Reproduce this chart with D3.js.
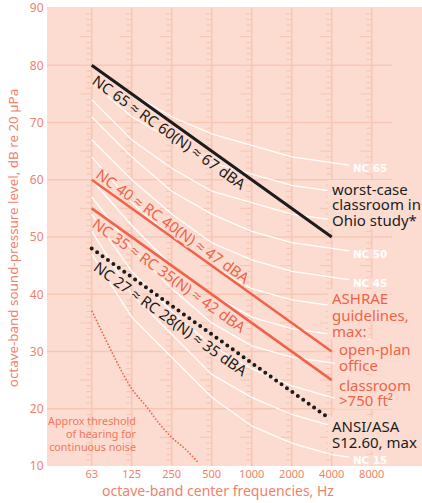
<!DOCTYPE html>
<html lang="en">
<head>
<meta charset="utf-8" />
<script src="https://d3js.org/d3.v7.min.js"></script>
<style>
  body { margin: 0; background: #fff; }
  text { font-family: "Noto Sans", sans-serif; }
</style>
</head>
<body>
<script>
const w = 422;
const h = 503;

// octave bands and axis ticks
const bands = [63, 125, 250, 500, 1000, 2000, 4000, 8000];
const bandLabels = ["63", "125", "250", "500", "1000", "2000", "4000", "8000"];
const dbTicks = [10, 20, 30, 40, 50, 60, 70, 80, 90];

// NC curves, dB per octave band 63..8000
const nc15 = [47, 36, 29, 22, 17, 14, 12, 11];
const nc20 = [51, 40, 33, 26, 22, 19, 17, 16];
const nc25 = [54, 44, 37, 31, 27, 24, 22, 21];
const nc30 = [57, 48, 41, 35, 31, 29, 28, 27];
const nc35 = [60, 52, 45, 40, 36, 34, 33, 32];
const nc40 = [64, 56, 50, 45, 41, 39, 38, 37];
const nc45 = [67, 60, 54, 49, 46, 44, 43, 42];
const nc50 = [71, 64, 58, 54, 51, 49, 48, 47];
const nc55 = [74, 67, 62, 58, 56, 54, 53, 52];
const nc60 = [77, 71, 67, 63, 61, 59, 58, 57];
const nc65 = [80, 75, 71, 68, 66, 64, 63, 62];
const ncLabelled = ["NC 65", "NC 50", "NC 45", "NC 15"];

// straight reference lines, 63 Hz -> 4000 Hz
const lineFreqs = [63, 4000];
const worstCase = [80, 50];
const openPlan = [60, 30];
const classroom = [55, 25];
const ansi = [48, 18];

// approximate hearing threshold
const thresholdFreqs = [63, 80, 100, 125, 160, 200, 250, 315, 400];
const thresholdDb = [37, 32, 27.5, 23.5, 20.5, 17.5, 15, 13, 10.5];

const peach = "#fcdcd0";
const gridCol = "#f8c6b3";
const axisCol = "#f2816a";
const red = "#f0634a";
const dark = "#1c1c1c";

const x = d3.scaleLog().base(2).domain([62.5, 8000]).range([91.7, 371.7]);
const y = d3.scaleLinear().domain([10, 90]).range([466, 8]);
const band = f => f === 63 ? 62.5 : f;  // nominal 63 sits on the octave

const plotLeft = 47;

const svg = d3.select("body").append("svg")
    .attr("width", w)
    .attr("height", h);

svg.append("rect")
    .attr("x", plotLeft).attr("y", y(90) - 1)
    .attr("width", w - plotLeft).attr("height", y(10) - y(90) + 1)
    .attr("fill", peach);

// horizontal grid
svg.append("g").selectAll("line")
    .data(dbTicks.filter(d => d > 10 && d < 90))
    .enter().append("line")
    .attr("x1", plotLeft).attr("x2", x(8000) + 20)
    .attr("y1", d => y(d)).attr("y2", d => y(d))
    .attr("stroke", gridCol).attr("stroke-width", 1.5);

// vertical grid with 1 dB ticks
const vg = svg.append("g");
bands.forEach(f => {
    const xf = x(band(f));
    vg.append("line")
        .attr("x1", xf).attr("x2", xf)
        .attr("y1", y(90)).attr("y2", y(10))
        .attr("stroke", gridCol).attr("stroke-width", 1.5);
    vg.selectAll(null)
        .data(d3.range(11, 90).filter(d => d % 10 !== 0))
        .enter().append("line")
        .attr("x1", d => xf - (d % 5 === 0 ? 11.5 : 5.5)).attr("x2", xf)
        .attr("y1", d => y(d)).attr("y2", d => y(d))
        .attr("stroke", gridCol).attr("stroke-width", 1.2);
});

// axes text
svg.append("g").selectAll("text")
    .data(dbTicks)
    .enter().append("text")
    .attr("x", 43.5).attr("y", d => y(d))
    .attr("dy", "0.36em")
    .attr("text-anchor", "end")
    .attr("font-size", 12)
    .attr("fill", axisCol)
    .text(d => d);

svg.append("g").selectAll("text")
    .data(bands)
    .enter().append("text")
    .attr("x", d => x(band(d))).attr("y", 477.5)
    .attr("text-anchor", "middle")
    .attr("font-size", 11)
    .attr("fill", axisCol)
    .text((d, i) => bandLabels[i]);

svg.append("text")
    .attr("x", 218).attr("y", 496)
    .attr("text-anchor", "middle")
    .attr("font-size", 14)
    .attr("fill", axisCol)
    .text("octave-band center frequencies, Hz");

svg.append("text")
    .attr("transform", "translate(17.5,238) rotate(-90)")
    .attr("text-anchor", "middle")
    .attr("font-size", 13.4)
    .attr("fill", axisCol)
    .text("octave-band sound-pressure level, dB re 20 µPa");

// NC curves
const ncCurves = [
    ["NC 15", nc15], ["NC 20", nc20], ["NC 25", nc25], ["NC 30", nc30],
    ["NC 35", nc35], ["NC 40", nc40], ["NC 45", nc45], ["NC 50", nc50],
    ["NC 55", nc55], ["NC 60", nc60], ["NC 65", nc65]
];
const bandLine = d3.line()
    .x((d, i) => x(band(bands[i])))
    .y(d => y(d));

svg.append("g").selectAll("path")
    .data(ncCurves)
    .enter().append("path")
    .attr("d", d => bandLine(d[1]))
    .attr("fill", "none")
    .attr("stroke", "#fff")
    .attr("stroke-width", 1.3);

// threshold of hearing
const thrLine = d3.line()
    .x((d, i) => x(thresholdFreqs[i]))
    .y(d => y(d))
    .curve(d3.curveMonotoneX);
svg.append("path")
    .attr("d", thrLine(thresholdDb))
    .attr("fill", "none")
    .attr("stroke", red)
    .attr("stroke-width", 1.8)
    .attr("stroke-linecap", "round")
    .attr("stroke-dasharray", "0 3.3");

// reference lines
const refLine = d3.line()
    .x((d, i) => x(band(lineFreqs[i])))
    .y(d => y(d));

svg.append("path").attr("d", refLine(worstCase))
    .attr("fill", "none").attr("stroke", dark).attr("stroke-width", 3);
svg.append("path").attr("d", refLine(openPlan))
    .attr("fill", "none").attr("stroke", red).attr("stroke-width", 2.5);
svg.append("path").attr("d", refLine(classroom))
    .attr("fill", "none").attr("stroke", red).attr("stroke-width", 2.5);
svg.append("path").attr("d", refLine(ansi))
    .attr("fill", "none").attr("stroke", dark).attr("stroke-width", 4)
    .attr("stroke-linecap", "round").attr("stroke-dasharray", "0 6.67");

// labels along the lines
function along(vals, txt, col, dx, dy) {
    const x0 = x(band(lineFreqs[0])), y0 = y(vals[0]);
    const x1 = x(band(lineFreqs[1])), y1 = y(vals[1]);
    const ang = Math.atan2(y1 - y0, x1 - x0) * 180 / Math.PI;
    svg.append("text")
        .attr("transform", `translate(${x0},${y0}) rotate(${ang})`)
        .attr("x", dx).attr("y", dy)
        .attr("font-size", 15)
        .attr("fill", col)
        .attr("stroke", peach).attr("stroke-width", 2.5)
        .attr("paint-order", "stroke")
        .text(txt);
}
along(worstCase, "NC 65 ≈ RC 60(N) ≈ 67 dBA", dark, 10, 15);
along(openPlan, "NC 40 ≈ RC 40(N) ≈ 47 dBA", red, 1, -4);
along(classroom, "NC 35 ≈ RC 35(N) ≈ 42 dBA", red, 10, 15);
along(ansi, "NC 27 ≈ RC 28(N) ≈ 35 dBA", dark, 13, 17);

// boxed text on the right: boxes go in one layer under all the text
const boxLayer = svg.append("g");
const textLayer = svg.append("g");
function boxed(tx, ty, txt, col, size, weight) {
    const t = textLayer.append("text")
        .attr("x", tx).attr("y", ty)
        .attr("font-size", size)
        .attr("fill", col)
        .text(txt);
    if (weight) t.attr("font-weight", weight).style("font-family", "'DejaVu Sans', sans-serif");
    const b = t.node().getBBox();
    boxLayer.append("rect")
        .attr("x", b.x - 4).attr("y", b.y + 1)
        .attr("width", b.width + 6).attr("height", b.height - 2)
        .attr("fill", peach);
}

ncCurves.filter(d => ncLabelled.includes(d[0])).forEach(d => {
    boxed(353, y(d[1][7]) + 3.8, d[0], "#fff", 10.3, "bold");
});

boxed(332, 195, "worst-case", dark, 15);
boxed(332, 210.3, "classroom in", dark, 15);
boxed(332, 225.7, "Ohio study*", dark, 15);

boxed(332, 304, "ASHRAE", red, 15);
boxed(332, 320.5, "guidelines,", red, 15);
boxed(332, 336.7, "max:", red, 15);
boxed(339, 355, "open-plan", red, 15);
boxed(339, 370.7, "office", red, 15);
boxed(339, 390.7, "classroom", red, 15);
boxed(339, 406, ">750 ft²", red, 15);

boxed(332, 431.7, "ANSI/ASA", dark, 15);
boxed(332, 448.3, "S12.60, max", dark, 15);

// threshold note
const note = ["Approx threshold", "of hearing for", "continuous noise"];
svg.append("g").selectAll("text")
    .data(note)
    .enter().append("text")
    .attr("x", 136).attr("y", (d, i) => 425 + i * 13)
    .attr("text-anchor", "end")
    .attr("font-size", 10.8)
    .attr("fill", "#f2775d")
    .text(d => d);
</script>
</body>
</html>
